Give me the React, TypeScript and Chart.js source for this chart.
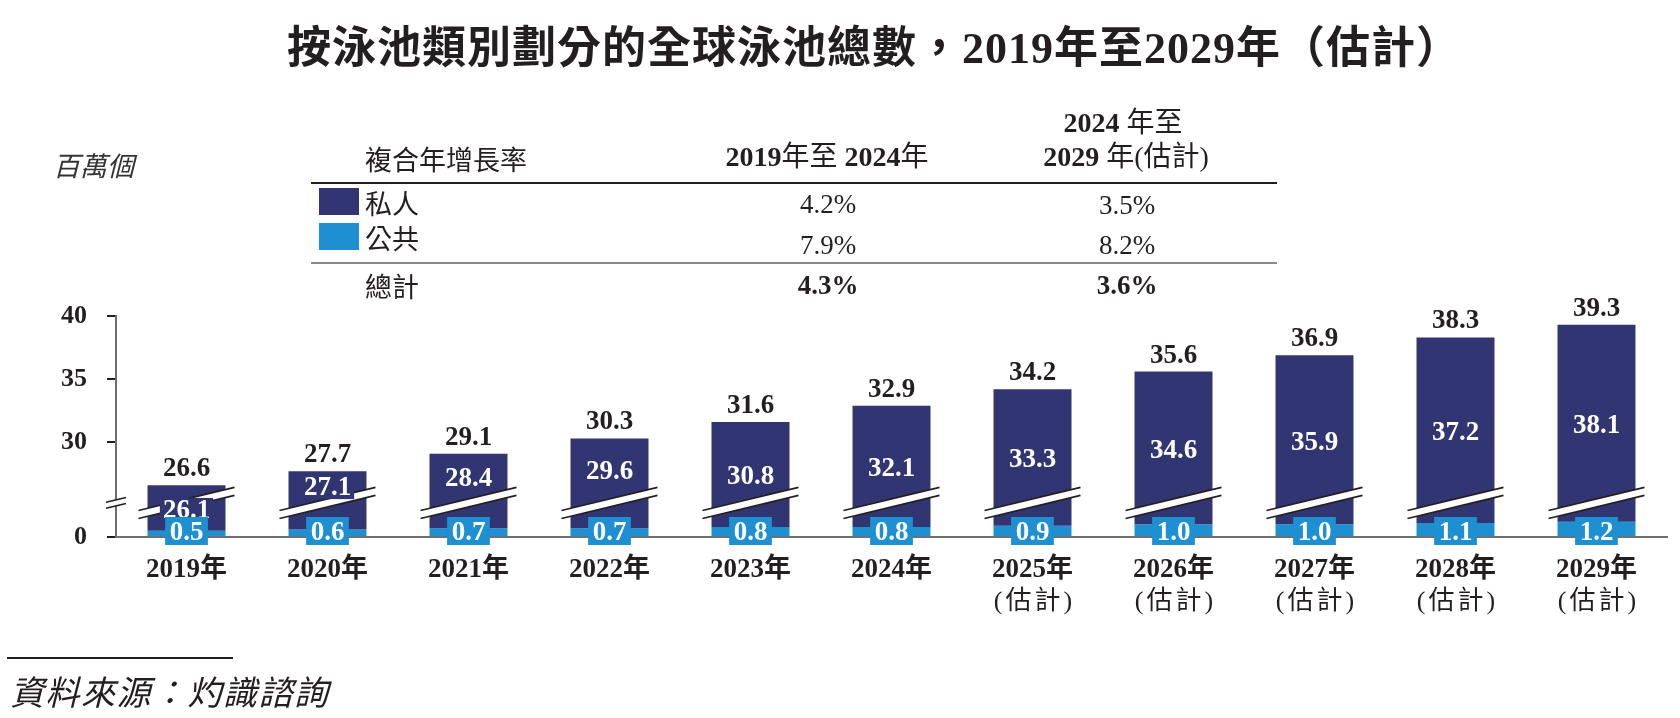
import React, { useEffect, useRef } from "react";
import { Chart, registerables } from "chart.js";

Chart.register(...registerables);

// ---------------- data ----------------
const chartTitle = "按泳池類別劃分的全球泳池總數，2019年至2029年（估計）";
const unitLabel = "百萬個";
const sourceLabel = "資料來源：灼識諮詢";

const categories = ["2019年", "2020年", "2021年", "2022年", "2023年", "2024年", "2025年", "2026年", "2027年", "2028年", "2029年"];
const estimated = [false, false, false, false, false, false, true, true, true, true, true];
const estimateNote = "(估計)";

const seriesNames = ["私人", "公共"];
const privatePools = [26.1, 27.1, 28.4, 29.6, 30.8, 32.1, 33.3, 34.6, 35.9, 37.2, 38.1];
const publicPools = [0.5, 0.6, 0.7, 0.7, 0.8, 0.8, 0.9, 1.0, 1.0, 1.1, 1.2];
const totalPools = [26.6, 27.7, 29.1, 30.3, 31.6, 32.9, 34.2, 35.6, 36.9, 38.3, 39.3];

const yTicks = [0, 30, 35, 40];
const yMax = 40;
const axisCut = 22.5; // value range hidden by the axis break
const breakAt = 2.7; // axis position where the break symbol sits

const cagrTitle = "複合年增長率";
const cagrTotalName = "總計";
const cagrPeriodA = "2019年至 2024年";
const cagrPeriodB = ["2024 年至", "2029 年(估計)"];
const cagrPrivate = ["4.2%", "3.5%"];
const cagrPublic = ["7.9%", "8.2%"];
const cagrTotal = ["4.3%", "3.6%"];

// ---------------- style ----------------
const NAVY = "#313572";
const BLUE = "#1e8fd0";
const INK = "#231f20";
const AXIS = "#6d6e71";
const SERIF = "'Liberation Serif', 'Noto Sans CJK TC', serif";
const CJK = "'Noto Sans CJK TC', sans-serif";

const toAxis = (v: number) => (v >= axisCut ? v - axisCut : v);
const fromAxis = (a: number) => (a > breakAt ? a + axisCut : a);

function drawBreak(ctx: CanvasRenderingContext2D, cx: number, cy: number, hw: number, gap: number) {
  const slope = 0.24;
  const x1 = cx - hw, x2 = cx + hw;
  const y1 = cy + hw * slope, y2 = cy - hw * slope;
  ctx.save();
  ctx.fillStyle = "#ffffff";
  ctx.beginPath();
  ctx.moveTo(x1, y1 - gap / 2);
  ctx.lineTo(x2, y2 - gap / 2);
  ctx.lineTo(x2, y2 + gap / 2);
  ctx.lineTo(x1, y1 + gap / 2);
  ctx.closePath();
  ctx.fill();
  ctx.strokeStyle = INK;
  ctx.lineWidth = 1.6;
  ctx.beginPath();
  ctx.moveTo(x1, y1 - gap / 2);
  ctx.lineTo(x2, y2 - gap / 2);
  ctx.moveTo(x1, y1 + gap / 2);
  ctx.lineTo(x2, y2 + gap / 2);
  ctx.stroke();
  ctx.restore();
}

const overlayPlugin = {
  id: "overlay",
  afterDatasetsDraw(chart: any) {
    const ctx: CanvasRenderingContext2D = chart.ctx;
    const ys = chart.scales.y;
    const xs = chart.scales.x;
    const privMeta = chart.getDatasetMeta(0);
    const pubMeta = chart.getDatasetMeta(1);
    const by = ys.getPixelForValue(breakAt);
    ctx.save();
    privMeta.data.forEach((bar: any) => {
      const p = bar.getProps(["x", "width"], true);
      drawBreak(ctx, p.x, by, p.width / 2 + 9, 8);
    });
    drawBreak(ctx, chart.chartArea.left, by, 10, 6);

    ctx.textAlign = "center";
    ctx.textBaseline = "middle";
    ctx.font = `bold 27px ${SERIF}`;
    // private labels
    privMeta.data.forEach((bar: any, i: number) => {
      const p = bar.getProps(["x", "y", "base"], true);
      let cy = (p.y + p.base) / 2 + 2;
      const roomAbove = by - p.y;
      if (cy + 12 > by - 14 && roomAbove > 30) cy = (p.y + by) / 2;
      const txt = privatePools[i].toFixed(1);
      const w = ctx.measureText(txt).width + 6;
      ctx.fillStyle = NAVY;
      ctx.fillRect(p.x - w / 2, cy - 12, w, 24);
      ctx.fillStyle = "#ffffff";
      ctx.fillText(txt, p.x, cy + 1);
      // totals
      ctx.fillStyle = INK;
      ctx.fillText(totalPools[i].toFixed(1), p.x, p.y - 16);
    });
    // public labels
    const zero = ys.getPixelForValue(0);
    pubMeta.data.forEach((bar: any, i: number) => {
      const p = bar.getProps(["x"], true);
      const txt = publicPools[i].toFixed(1);
      const w = ctx.measureText(txt).width + 9;
      const cy = zero - 6;
      ctx.fillStyle = BLUE;
      ctx.fillRect(p.x - w / 2, cy - 14, w, 28);
      ctx.fillStyle = "#ffffff";
      ctx.fillText(txt, p.x, cy + 2);
    });
    // second line of x labels
    ctx.font = `26px ${SERIF}`;
    (ctx as any).letterSpacing = "3px";
    ctx.fillStyle = INK;
    estimated.forEach((e, i) => {
      if (e) ctx.fillText(estimateNote, xs.getPixelForValue(i) + 2, 602);
    });
    ctx.restore();
  },
};

type TProps = {
  x: number;
  cy: number;
  size: number;
  align?: "left" | "center";
  weight?: string | number;
  italic?: boolean;
  family?: string;
  color?: string;
  spacing?: number;
  children: React.ReactNode;
};

function T({ x, cy, size, align = "left", weight = "normal", italic = false, family = SERIF, color = INK, spacing = 0, children }: TProps) {
  const lh = Math.round(size * 1.3);
  return (
    <div
      style={{
        position: "absolute",
        left: x,
        top: cy - lh / 2,
        height: lh,
        lineHeight: lh + "px",
        fontSize: size,
        fontWeight: weight as any,
        fontStyle: italic ? "italic" : "normal",
        fontFamily: family,
        color,
        letterSpacing: spacing ? spacing + "px" : undefined,
        whiteSpace: "nowrap",
        transform: align === "center" ? "translateX(-50%)" : undefined,
      }}
    >
      {children}
    </div>
  );
}

// digits bold, CJK regular
function Mixed({ text }: { text: string }) {
  return (
    <>
      {text.split(/(\d+)/).map((part, i) =>
        /^\d+$/.test(part) ? (
          <b key={i}>{part}</b>
        ) : (
          <span key={i} style={{ fontWeight: "normal" }}>
            {part}
          </span>
        )
      )}
    </>
  );
}

function Box({ x, y, w, h, color }: { x: number; y: number; w: number; h: number; color: string }) {
  return <div style={{ position: "absolute", left: x, top: y, width: w, height: h, background: color }} />;
}

export default function App() {
  const ref = useRef<HTMLCanvasElement | null>(null);

  useEffect(() => {
    document.body.style.margin = "0";
    if (!ref.current) return;
    const chart = new Chart(ref.current, {
      type: "bar",
      data: {
        labels: categories,
        datasets: [
          {
            label: seriesNames[0],
            data: categories.map((_, i) => [publicPools[i], toAxis(totalPools[i])]) as any,
            backgroundColor: NAVY,
            borderWidth: 0,
          },
          {
            label: seriesNames[1],
            data: publicPools.map((v) => [0, v]) as any,
            backgroundColor: BLUE,
            borderWidth: 0,
          },
        ],
      },
      options: {
        animation: false,
        responsive: false,
        devicePixelRatio: 1,
        layout: { padding: { top: 316, right: 13, left: 0, bottom: 0 } },
        plugins: { legend: { display: false }, tooltip: { enabled: false } },
        datasets: { bar: { grouped: false, categoryPercentage: 1, barPercentage: 0.553 } as any },
        scales: {
          x: {
            grid: { display: true, drawOnChartArea: false, drawTicks: false },
            border: { color: AXIS, width: 2 },
            ticks: {
              font: { family: SERIF, size: 27, weight: "bold" },
              color: INK,
              padding: 17,
              maxRotation: 0,
              autoSkip: false,
            },
            afterFit: (s: any) => {
              s.height = 181;
            },
          },
          y: {
            min: 0,
            max: toAxis(yMax),
            grid: { drawOnChartArea: false, drawTicks: true, tickLength: 9, color: INK, lineWidth: 2 },
            border: { color: AXIS, width: 2 },
            ticks: {
              font: { family: SERIF, size: 26, weight: "bold" },
              color: INK,
              padding: 20,
              callback: (v: any) => String(Math.round(fromAxis(Number(v)))),
            },
            afterBuildTicks: (s: any) => {
              s.ticks = yTicks.map((v) => ({ value: toAxis(v) }));
            },
            afterFit: (s: any) => {
              s.width = 116;
            },
          },
        },
      },
      plugins: [overlayPlugin],
    });
    return () => chart.destroy();
  }, []);

  return (
    <div style={{ position: "relative", width: 1680, height: 718, overflow: "hidden", background: "#fff" }}>
      <canvas ref={ref} width={1680} height={718} style={{ position: "absolute", left: 0, top: 0, width: 1680, height: 718 }} />

      <T x={287} cy={48} size={44} weight="bold" spacing={1}>{chartTitle}</T>

      <T x={53} cy={164} size={27} italic family={CJK} color="#333">{unitLabel}</T>

      {/* CAGR table */}
      <T x={365} cy={158} size={27} family={CJK}>{cagrTitle}</T>
      <T x={827} cy={157} size={28} align="center"><Mixed text={cagrPeriodA} /></T>
      <T x={1123} cy={123} size={28} align="center"><Mixed text={cagrPeriodB[0]} /></T>
      <T x={1126} cy={157} size={28} align="center"><Mixed text={cagrPeriodB[1]} /></T>
      <Box x={311} y={182} w={966} h={2} color={INK} />

      <Box x={319} y={188} w={40} h={27} color={NAVY} />
      <T x={365} cy={202} size={27} family={CJK}>{seriesNames[0]}</T>
      <T x={828} cy={204} size={27} align="center">{cagrPrivate[0]}</T>
      <T x={1127} cy={205} size={27} align="center">{cagrPrivate[1]}</T>

      <Box x={319} y={223} w={40} h={27} color={BLUE} />
      <T x={365} cy={237} size={27} family={CJK}>{seriesNames[1]}</T>
      <T x={828} cy={245} size={27} align="center">{cagrPublic[0]}</T>
      <T x={1127} cy={245} size={27} align="center">{cagrPublic[1]}</T>
      <Box x={311} y={262} w={966} h={2} color="#8a8a8a" />

      <T x={365} cy={285} size={27} family={CJK}>{cagrTotalName}</T>
      <T x={828} cy={285} size={27} align="center" weight="bold">{cagrTotal[0]}</T>
      <T x={1127} cy={285} size={27} align="center" weight="bold">{cagrTotal[1]}</T>

      {/* source */}
      <Box x={7} y={657} w={226} h={2} color={INK} />
      <T x={10} cy={691} size={34} italic family={CJK} spacing={1.5}>{sourceLabel}</T>
    </div>
  );
}
